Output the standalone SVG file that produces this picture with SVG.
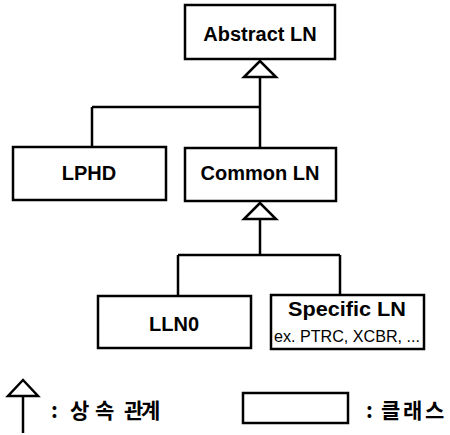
<svg xmlns="http://www.w3.org/2000/svg" width="450" height="435" viewBox="0 0 450 435">
<style>
.box{fill:#fff;stroke:#000;stroke-width:2.5}
.ln{fill:none;stroke:#000;stroke-width:2.5}
.tri{fill:#fff;stroke:#000;stroke-width:2.5;stroke-linejoin:miter}
.t{font-family:"Liberation Sans","Noto Sans CJK KR",sans-serif;font-weight:bold;font-size:20px;text-anchor:middle;fill:#000}
.s{font-family:"Liberation Sans","Noto Sans CJK KR",sans-serif;font-size:16px;text-anchor:middle;fill:#000}
.k{font-family:"Noto Sans CJK KR",sans-serif;font-weight:bold;font-size:21px;fill:#000}
</style>
<rect width="450" height="435" fill="#fff"/>
<g id="connectors">
<line class="ln" x1="260" y1="77" x2="260" y2="148"/>
<line class="ln" x1="92" y1="107" x2="260" y2="107"/>
<line class="ln" x1="92" y1="107" x2="92" y2="147"/>
<polygon class="tri" points="260,61 244,77 276,77"/>
<line class="ln" x1="260" y1="219" x2="260" y2="255"/>
<line class="ln" x1="178" y1="255" x2="340" y2="255"/>
<line class="ln" x1="178" y1="255" x2="178" y2="296"/>
<line class="ln" x1="340" y1="255" x2="340" y2="295"/>
<polygon class="tri" points="260,203 244,219 276,219"/>
</g>
<g id="abstract-ln">
<rect class="box" x="185" y="5" width="150" height="54"/>
<text class="t" x="260" y="41">Abstract LN</text>
</g>
<g id="lphd">
<rect class="box" x="13" y="147" width="153" height="53"/>
<text class="t" x="89" y="180">LPHD</text>
</g>
<g id="common-ln">
<rect class="box" x="185" y="148" width="151" height="53"/>
<text class="t" x="260" y="180">Common LN</text>
</g>
<g id="lln0">
<rect class="box" x="98" y="296" width="153" height="52"/>
<text class="t" x="174" y="331">LLN0</text>
</g>
<g id="specific-ln">
<rect class="box" x="271" y="295" width="153" height="54"/>
<text class="t" x="347" y="316" textLength="118" lengthAdjust="spacingAndGlyphs">Specific LN</text>
<text class="s" x="347" y="342" textLength="146" lengthAdjust="spacingAndGlyphs">ex. PTRC, XCBR, ...</text>
</g>
<g id="legend-inheritance">
<line class="ln" x1="23" y1="396" x2="23" y2="433"/>
<polygon class="tri" points="23,380 8,396 38,396"/>
<text class="k" x="51 60 70 95 118 124 141" y="418">: 상속 관계</text>
</g>
<g id="legend-class">
<rect class="box" x="243" y="393" width="105" height="30"/>
<text class="k" x="366 375 381 403 425" y="418">: 클래스</text>
</g>
</svg>
